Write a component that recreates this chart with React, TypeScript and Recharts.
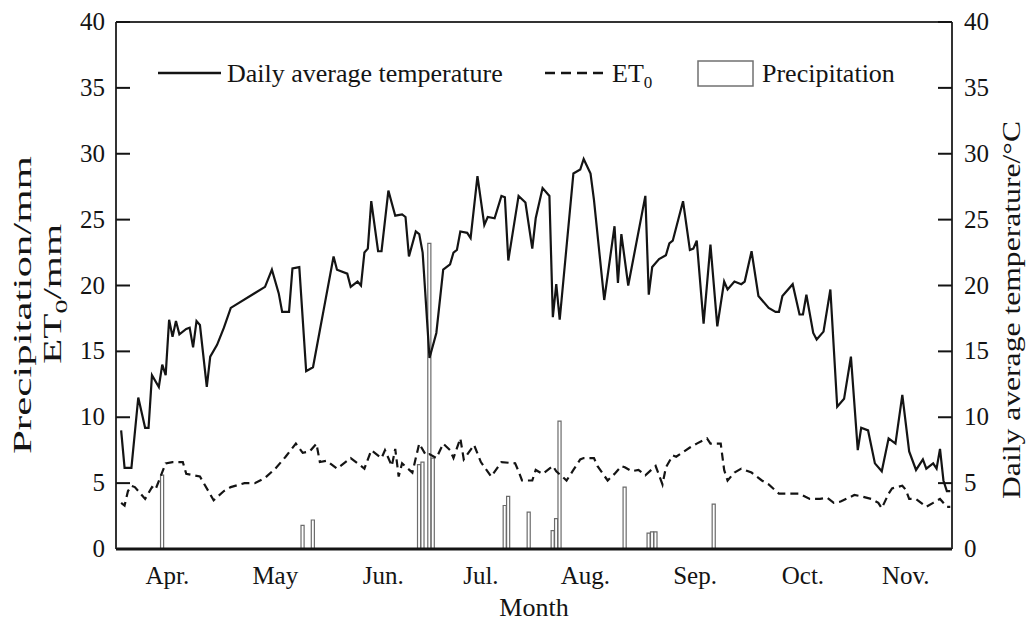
import React from "react";
import { ComposedChart, Bar, Line, XAxis, YAxis, ReferenceLine, Label } from "recharts";

// day index: 0 = 1 April ... 243 = 30 November
const tempDays = [
  1, 2, 4, 6, 8, 9, 10, 12, 13, 14, 15, 16, 17, 18, 20, 21, 22, 23, 24, 26, 27, 29, 31, 33,
  43, 45, 47, 48, 50, 51, 53, 55, 57, 59, 60, 63, 64, 67, 68, 70, 71, 72, 73, 74, 76, 77, 79,
  81, 83, 84, 85, 87, 88, 89, 91, 93, 95, 97, 98, 99, 100, 102, 103, 105, 107, 108, 110, 112,
  113, 114, 117, 119, 121, 122, 124, 126, 127, 128, 129, 133, 135, 136, 138, 139, 142, 145,
  146, 147, 149, 154, 155, 156, 158, 160, 161, 162, 165, 167, 168, 169, 171, 173, 175, 177,
  178, 180, 182, 183, 185, 187, 190, 192, 193, 194, 197, 199, 200, 201, 203, 204, 206, 208,
  210, 212, 214, 216, 217, 219, 221, 223, 225, 227, 229, 231, 233, 235, 236, 238, 239, 240,
  241, 242, 243,
];
const tempVals = [
  9.0, 6.15, 6.15, 11.5, 9.2, 9.2, 13.2, 12.3, 14.0, 13.2, 17.4, 16.1, 17.3, 16.3, 16.7, 16.8,
  15.3, 17.3, 17.0, 12.3, 14.6, 15.5, 16.8, 18.3,
  19.9, 21.2, 19.4, 18.0, 18.0, 21.3, 21.4, 13.5, 13.8, 16.6, 18.0, 22.2, 21.2, 20.9, 19.9,
  20.3, 20.0, 22.5, 22.8, 26.4, 22.6, 22.6, 27.2,
  25.3, 25.4, 25.2, 22.2, 24.1, 23.9, 22.5, 14.5, 16.4, 21.2, 21.6, 22.5, 22.7, 24.1, 24.0,
  23.6, 28.3, 24.6, 25.2, 25.1, 26.8,
  26.7, 21.9, 26.8, 26.3, 22.8, 25.1, 27.4, 26.8, 17.6, 20.1, 17.4, 28.5, 28.8, 29.6, 28.5,
  26.5, 18.9, 24.5,
  20.2, 23.9, 20.0, 26.8, 19.3, 21.4, 22.0, 22.3, 23.2, 23.4, 26.4, 22.7, 22.8, 23.4, 17.1,
  23.1, 16.9, 20.3,
  19.7, 20.3, 20.1, 20.3, 22.6, 19.2, 18.3, 18.0, 18.0, 19.2, 20.1, 17.8, 17.8, 19.3, 16.4,
  15.9, 16.5, 19.7,
  10.8, 11.4, 14.6, 7.5, 9.2, 9.0, 6.5, 5.9, 8.4, 8.0, 11.7, 7.4, 6.0, 6.8, 6.1, 6.5, 6.1, 7.6,
  5.2, 4.4, 4.4,
];

const et0Days = [
  1, 2, 3, 4, 5, 8, 10, 11, 14, 16, 19, 20, 24, 28, 31, 33, 37, 40, 43, 46, 49, 52, 54, 56, 58,
  59, 61, 64, 68, 72, 74, 77, 78, 80, 81, 82, 83, 86, 88, 90, 91, 93, 95, 97, 98, 100, 101, 104,
  106, 109, 112, 116, 117, 118, 121, 122, 124, 127, 128, 131, 133, 135, 136, 139, 140, 143, 145,
  147, 148, 150, 152, 154, 157, 159, 160, 162, 163, 167, 169, 172, 173, 176, 177, 178, 180, 182,
  185, 188, 190, 193, 196, 199, 202, 205, 207, 209, 211, 215, 217, 220, 222, 223, 225, 226, 229,
  230, 231, 233, 236, 238, 240, 242, 243,
];
const et0Vals = [
  3.5, 3.3, 4.4, 4.8, 4.7, 3.8, 4.7, 4.5, 6.5, 6.6, 6.6, 5.7, 5.5, 3.7, 4.4, 4.7, 5.0, 5.0, 5.4,
  6.1, 7.0, 8.0, 7.3, 7.4, 8.0,
  6.6, 6.7, 6.1, 6.9, 6.1, 7.5, 6.9, 7.5, 6.3, 7.6, 5.5, 6.5, 5.8, 8.0, 7.1, 7.2, 6.9, 8.0, 7.5,
  6.9, 8.4, 6.8, 7.9,
  6.6, 5.5, 6.6, 6.5, 5.9, 5.2, 5.2, 6.0, 5.7, 6.3, 5.9, 5.2, 6.0, 6.8, 6.9, 6.9, 6.3, 5.2, 5.7,
  6.3, 6.2, 5.9, 6.0, 5.6, 6.3, 4.9, 6.2, 7.1, 7.0, 7.7, 8.0, 8.4, 8.0, 8.0, 6.0, 5.2, 5.8, 6.1,
  5.8, 5.2, 4.9, 4.2, 4.2, 4.2, 3.8, 3.8, 3.9, 3.5, 3.6, 4.1, 4.0, 3.8, 3.5, 3.1, 4.2, 4.6, 4.8,
  4.5, 3.8, 3.8, 3.2, 3.5, 3.8, 3.2, 3.2,
];

const rainDays = [13, 54, 57, 88, 89, 91, 92, 113, 114, 120, 127, 128, 129, 148, 155, 156, 157, 174];
const rainVals = [5.6, 1.8, 2.2, 6.4, 6.6, 23.2, 6.9, 3.3, 4.0, 2.8, 1.4, 2.3, 9.7, 4.7, 1.2, 1.3, 1.3, 3.4];

const monthLabels = ["Apr.", "May", "Jun.", "Jul.", "Aug.", "Sep.", "Oct.", "Nov."];
const monthPos = [14.5, 46, 77.5, 106, 136.5, 168.5, 200, 230];
const valueTicks = [0, 5, 10, 15, 20, 25, 30, 35, 40];

type Row = { day: number; temp?: number; et0?: number; rain?: number };

const byDay = new Map<number, Row>();
const rowFor = (d: number) => {
  if (!byDay.has(d)) byDay.set(d, { day: d });
  return byDay.get(d)!;
};
tempDays.forEach((d, i) => (rowFor(d).temp = tempVals[i]));
et0Days.forEach((d, i) => (rowFor(d).et0 = et0Vals[i]));
rainDays.forEach((d, i) => (rowFor(d).rain = rainVals[i]));
const rows = Array.from(byDay.values()).sort((a, b) => a.day - b.day);

const W = 1033;
const H = 622;
const LEFT = 116;
const RIGHT = 952;
const FONT = "'Liberation Serif', 'Times New Roman', serif";
const INK = "#141414";

const LeftTick = (props: any) => {
  const { y, payload } = props;
  return (
    <g>
      <line x1={LEFT} x2={LEFT + 14} y1={y} y2={y} stroke={INK} strokeWidth={2} />
      <text x={105} y={y + 8} textAnchor="end" fontSize={25} fontFamily={FONT} fill={INK}>
        {payload.value}
      </text>
    </g>
  );
};

const RightTick = (props: any) => {
  const { y, payload } = props;
  return (
    <g>
      <line x1={RIGHT - 14} x2={RIGHT} y1={y} y2={y} stroke={INK} strokeWidth={2} />
      <text x={964} y={y + 8} textAnchor="start" fontSize={25} fontFamily={FONT} fill={INK}>
        {payload.value}
      </text>
    </g>
  );
};

const MonthTick = (props: any) => {
  const { x, payload } = props;
  const i = monthPos.indexOf(payload.value);
  return (
    <text x={x} y={584} textAnchor="middle" fontSize={25} fontFamily={FONT} fill={INK}>
      {monthLabels[i]}
    </text>
  );
};

// the rotated titles are drawn a bit longer than their natural width
const LeftTitle = () => (
  <g fontFamily={FONT} fontSize={25} fill={INK}>
    <text
      transform="translate(31,305) rotate(-90)"
      textAnchor="middle"
      textLength={298}
      lengthAdjust="spacingAndGlyphs"
    >
      Precipitation/mm
    </text>
    <text
      transform="translate(61,294) rotate(-90)"
      textAnchor="middle"
      textLength={140}
      lengthAdjust="spacingAndGlyphs"
    >
      ET<tspan dy={6} fontSize={17}>0</tspan>
      <tspan dy={-6}>/mm</tspan>
    </text>
  </g>
);

const RightTitle = () => (
  <text
    transform="translate(1020,310) rotate(-90)"
    textAnchor="middle"
    textLength={378}
    lengthAdjust="spacingAndGlyphs"
    fontFamily={FONT}
    fontSize={25}
    fill={INK}
  >
    Daily average temperature/°C
  </text>
);

const LegendBox = () => (
  <svg width={W} height={110} style={{ position: "absolute", left: 0, top: 0, pointerEvents: "none" }}>
    <g fontFamily={FONT} fontSize={26} fill={INK}>
      <line x1={158} x2={221} y1={73} y2={73} stroke={INK} strokeWidth={2.5} />
      <text x={227} y={82}>Daily average temperature</text>
      <line x1={545} x2={603} y1={73} y2={73} stroke={INK} strokeWidth={2.5} strokeDasharray="10 6" />
      <text x={612} y={82}>
        ET<tspan dy={6} fontSize={17}>0</tspan>
      </text>
      <rect x={698} y={61} width={55} height={25} fill="#fff" stroke="#707070" strokeWidth={1.5} />
      <text x={762} y={82}>Precipitation</text>
    </g>
  </svg>
);

export default function App() {
  return (
    <div style={{ position: "absolute", left: 0, top: 0, width: W, height: H, background: "#fff" }}>
      <ComposedChart width={W} height={H} data={rows} margin={{ top: 22, right: 0, bottom: 0, left: 0 }}>
        <XAxis
          dataKey="day"
          type="number"
          domain={[-0.5, 243.5]}
          ticks={monthPos}
          interval={0}
          height={73}
          tickLine={false}
          axisLine={{ stroke: INK, strokeWidth: 3 }}
          tick={<MonthTick />}
        >
          <Label value="Month" position="insideBottom" offset={6} fontSize={26} fontFamily={FONT} fill={INK} />
        </XAxis>
        <YAxis
          yAxisId="left"
          domain={[0, 40]}
          ticks={valueTicks}
          interval={0}
          width={LEFT}
          tickLine={false}
          axisLine={{ stroke: "#333", strokeWidth: 2 }}
          tick={<LeftTick />}
        >
          <Label content={<LeftTitle />} />
        </YAxis>
        <YAxis
          yAxisId="right"
          orientation="right"
          domain={[0, 40]}
          ticks={valueTicks}
          interval={0}
          width={W - RIGHT}
          tickLine={false}
          axisLine={{ stroke: "#333", strokeWidth: 2 }}
          tick={<RightTick />}
        >
          <Label content={<RightTitle />} />
        </YAxis>
        <ReferenceLine yAxisId="left" y={40} stroke="#333" strokeWidth={2} />
        <Bar
          yAxisId="left"
          dataKey="rain"
          barSize={4}
          fill="#fff"
          stroke="#6b6b6b"
          strokeWidth={1.2}
          isAnimationActive={false}
        />
        <Line
          yAxisId="left"
          dataKey="et0"
          stroke={INK}
          strokeWidth={2.2}
          strokeDasharray="8 5"
          dot={false}
          connectNulls
          isAnimationActive={false}
        />
        <Line
          yAxisId="right"
          dataKey="temp"
          stroke={INK}
          strokeWidth={2.2}
          dot={false}
          connectNulls
          isAnimationActive={false}
        />
      </ComposedChart>
      <LegendBox />
    </div>
  );
}
